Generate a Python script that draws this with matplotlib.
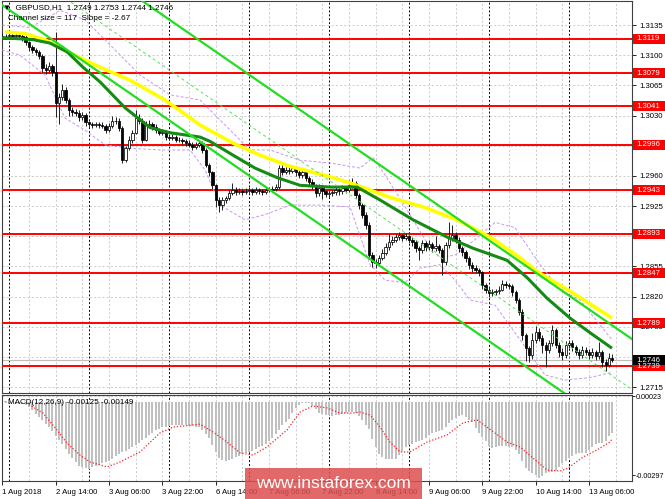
import matplotlib.pyplot as plt
import numpy as np
from matplotlib.transforms import blended_transform_factory
from matplotlib.patches import Rectangle

plt.rcParams['font.family'] = ['Liberation Sans', 'DejaVu Sans']

# GBPUSD H1, one bar per hour from 1 Aug 22:00 to 13 Aug 13:00, prices in pips (x 1e-4)
first_open = 13122
close_pips = [
    13122, 13122, 13123, 13122, 13123, 13122, 13121, 13115, 13109, 13106,
    13104, 13099, 13085, 13083, 13087, 13080, 13045, 13051, 13060, 13048,
    13036, 13034, 13033, 13028, 13031, 13022, 13020, 13019, 13020, 13019,
    13018, 13013, 13018, 13024, 13024, 13016, 12978, 12992, 13002, 13010,
    13027, 13024, 13002, 13019, 13020, 13017, 13013, 13010, 13011, 13005,
    13004, 13005, 13002, 13002, 13000, 12998, 12996, 12993, 12996, 12998,
    12990, 12973, 12964, 12949, 12932, 12926, 12932, 12934, 12940, 12944,
    12941, 12942, 12941, 12942, 12944, 12941, 12944, 12942, 12941, 12944,
    12944, 12945, 12947, 12969, 12964, 12967, 12966, 12969, 12964, 12961,
    12964, 12958, 12953, 12949, 12940, 12946, 12942, 12939, 12940, 12941,
    12944, 12942, 12946, 12944, 12949, 12952, 12938, 12926, 12915, 12903,
    12868, 12860, 12859, 12865, 12871, 12877, 12883, 12886, 12889, 12891,
    12888, 12890, 12886, 12883, 12876, 12874, 12882, 12877, 12881, 12876,
    12879, 12874, 12860, 12880, 12888, 12891, 12886, 12876, 12872, 12865,
    12857, 12853, 12851, 12848, 12833, 12828, 12824, 12825, 12826, 12828,
    12835, 12833, 12832, 12825, 12816, 12802, 12775, 12760, 12752, 12770,
    12779, 12772, 12764, 12758, 12766, 12781, 12764, 12756, 12752, 12764,
    12766, 12761, 12756, 12752, 12758, 12756, 12752, 12756, 12751, 12756,
    12744, 12741, 12749, 12746]
high_pips = [
    13126, 13125, 13127, 13125, 13126, 13125, 13124, 13123, 13117, 13112,
    13108, 13106, 13101, 13090, 13092, 13090, 13127, 13056, 13066, 13063,
    13050, 13040, 13038, 13036, 13034, 13033, 13024, 13022, 13023, 13022,
    13022, 13020, 13021, 13030, 13028, 13027, 13018, 12995, 13006, 13013,
    13036, 13032, 13027, 13024, 13025, 13023, 13020, 13016, 13014, 13013,
    13008, 13008, 13007, 13005, 13004, 13003, 13001, 12999, 12999, 13002,
    13000, 12992, 12975, 12966, 12951, 12936, 12935, 12937, 12944, 12952,
    12947, 12946, 12945, 12946, 12947, 12946, 12947, 12946, 12945, 12947,
    12947, 12948, 12950, 12973, 12972, 12970, 12970, 12973, 12971, 12967,
    12967, 12966, 12960, 12956, 12951, 12950, 12948, 12944, 12943, 12944,
    12947, 12946, 12949, 12948, 12955, 12958, 12954, 12940, 12929, 12918,
    12906, 12872, 12864, 12868, 12875, 12882, 12893, 12890, 12893, 12895,
    12893, 12894, 12892, 12889, 12885, 12879, 12886, 12884, 12885, 12883,
    12890, 12881, 12876, 12883, 12907, 12903, 12895, 12889, 12879, 12874,
    12867, 12860, 12856, 12853, 12850, 12836, 12831, 12829, 12829, 12832,
    12839, 12838, 12836, 12834, 12827, 12818, 12805, 12778, 12763, 12778,
    12786, 12783, 12775, 12767, 12770, 12787, 12783, 12767, 12760, 12768,
    12770, 12769, 12764, 12759, 12762, 12761, 12759, 12760, 12758, 12767,
    12758, 12747, 12755, 12753]
low_pips = [
    13119, 13119, 13120, 13119, 13120, 13119, 13117, 13112, 13105, 13102,
    13100, 13095, 13080, 13078, 13080, 13076, 13028, 13020, 13048, 13044,
    13030, 13029, 13029, 13024, 13025, 13018, 13017, 13016, 13017, 13016,
    13015, 13010, 13011, 13016, 13020, 13012, 12975, 12976, 12990, 12998,
    13008, 13020, 12998, 13000, 13016, 13013, 13010, 13007, 13007, 13002,
    13001, 13001, 12999, 12999, 12997, 12995, 12993, 12990, 12991, 12994,
    12987, 12970, 12960, 12945, 12924, 12918, 12920, 12928, 12932, 12938,
    12938, 12939, 12938, 12939, 12940, 12938, 12939, 12939, 12938, 12939,
    12941, 12941, 12942, 12945, 12961, 12962, 12962, 12963, 12960, 12957,
    12958, 12954, 12949, 12945, 12935, 12937, 12933, 12935, 12936, 12937,
    12938, 12938, 12939, 12940, 12941, 12946, 12934, 12922, 12911, 12898,
    12864, 12854, 12853, 12855, 12862, 12868, 12874, 12880, 12883, 12886,
    12884, 12885, 12882, 12879, 12872, 12862, 12870, 12873, 12874, 12872,
    12873, 12870, 12845, 12856, 12876, 12884, 12882, 12872, 12867, 12860,
    12852, 12849, 12847, 12844, 12829, 12824, 12820, 12821, 12822, 12823,
    12826, 12830, 12829, 12821, 12812, 12798, 12770, 12745, 12744, 12748,
    12766, 12768, 12755, 12738, 12754, 12762, 12760, 12750, 12746, 12749,
    12760, 12757, 12752, 12748, 12749, 12752, 12748, 12749, 12746, 12748,
    12738, 12733, 12738, 12744]

# MACD(12,26,9) main line per bar, x 1e-5
macd_e5 = [
    -5, -5, -6, -6, -7, -8, -10, -14, -20, -33,
    -47, -62, -75, -90, -103, -120, -137, -155, -172, -192,
    -210, -226, -243, -259, -265, -270, -272, -265, -260, -255,
    -250, -245, -240, -230, -220, -210, -205, -198, -190, -185,
    -175, -165, -155, -145, -135, -125, -115, -108, -103, -100,
    -97, -95, -94, -94, -95, -95, -96, -98, -100, -103,
    -115, -130, -145, -175, -205, -226, -235, -239, -236, -230,
    -222, -218, -213, -208, -203, -198, -192, -185, -178, -169,
    -158, -145, -132, -115, -95, -80, -68, -45, -25, -12,
    -6, -4, -4, -15, -30, -45, -50, -53, -54, -55,
    -54, -54, -48, -43, -41, -42, -45, -55, -75, -95,
    -110, -150, -185, -210, -225, -231, -233, -232, -231, -215,
    -198, -185, -175, -169, -163, -159, -156, -145, -135, -128,
    -122, -118, -115, -100, -85, -74, -65, -57, -54, -62,
    -72, -82, -105, -125, -144, -160, -178, -189, -183, -179,
    -177, -180, -183, -185, -195, -210, -240, -268, -280, -288,
    -298, -309, -300, -288, -285, -283, -280, -265, -250, -239,
    -228, -218, -210, -208, -207, -206, -195, -182, -169, -167,
    -166, -160, -140, -125]
signal_bar = [8, 12.2, 16.4, 19.4, 23.3, 26.3, 31.4, 35.3, 41.3, 47.3, 51.2, 59.3,
              63.2, 67.4, 71.3, 75.2, 79.4, 85.4, 89.3, 93.2, 97.4, 101.3, 105.2,
              107.3, 110.3, 113.3, 116.3, 119.3, 122.3, 127.4, 133.4, 138.2, 142.4,
              145.4, 151.4, 155.3, 159.2, 163.4, 167.3, 169.7, 174.2, 178.4, 182.3, 183]
signal_e5 = [-10, -45, -114, -167, -216, -244, -264, -244, -203, -126, -102, -90,
             -122, -163, -207, -216, -183, -114, -41, -16, -24, -45, -45,
             -41, -53, -102, -163, -203, -203, -163, -134, -85, -73,
             -102, -163, -183, -228, -277, -281, -269, -224, -195, -163, -149]

# moving averages (yellow slow, dark green fast)
slow_bar = [0.8, 6.8, 12.8, 19.4, 29.3, 38.3, 48.8, 59.3, 69.2, 77.3, 86.3, 98.3, 106.4,
            116.3, 126.2, 136.4, 146.3, 155.3, 160.4, 171.2, 182.9]
slow_pips = [13127, 13125, 13118, 13104, 13086, 13071, 13048, 13019, 12998, 12984, 12971,
             12959, 12949, 12935, 12924, 12909, 12889, 12865, 12849, 12824, 12795]
fast_bar = [-0.1, 5.3, 9.2, 14.3, 19.4, 24.2, 29.3, 36.8, 44.3, 50.3, 59.3, 62.3, 69.2,
            75.8, 82.4, 89.3, 98.3, 106.4, 113.3, 123.2, 133.4, 141.2, 151.4, 157.4,
            163.4, 170.3, 176.3, 182.9]
fast_pips = [13120, 13119, 13118, 13114, 13104, 13086, 13069, 13039, 13016, 13010, 13005,
             13000, 12984, 12969, 12958, 12949, 12947, 12947, 12932, 12909, 12889, 12876,
             12862, 12842, 12818, 12795, 12778, 12760]

# envelope bands (violet dashed)
band_up_bar = [0, 8.3, 17.3, 24.8, 32.3, 41.3, 50.3, 59.3, 66.8, 74.3, 80.3, 89.3, 98.3,
               107.3, 111.2, 114.8, 122.3, 126.8, 131.3, 135.8, 141.8, 147.8, 153.8,
               161.3, 167.3, 173.3, 179.3, 182.9]
band_up_pips = [13135, 13132, 13152, 13141, 13112, 13077, 13054, 13048, 13019, 12990,
                12990, 12978, 12975, 12969, 12981, 12961, 12915, 12886, 12865, 12868,
                12886, 12906, 12900, 12857, 12828, 12816, 12787, 12770]
band_lo_bar = [-0.1, 5.3, 12.8, 18.8, 24.8, 30.8, 38.3, 47.3, 56.3, 60.8, 65.3, 72.8, 78.8,
               86.3, 95.3, 104.3, 110.3, 114.8, 120.8, 125.3, 131.3, 135.8, 140.3, 147.8,
               155.3, 162.8, 168.8, 176.3, 182.9]
band_lo_pips = [13106, 13100, 13077, 13027, 13013, 12996, 12992, 12990, 12990, 12967,
                12926, 12909, 12915, 12926, 12926, 12924, 12857, 12839, 12836, 12853,
                12857, 12839, 12816, 12810, 12770, 12729, 12723, 12726, 12732]

# regression channel: size 117 pips, slope -2.67 pips per bar
channel_start = 1.3158
channel_slope = -0.000267
channel_size = 0.0117

levels = [1.3119, 1.3079, 1.3041, 1.2996, 1.2943, 1.2893, 1.2847, 1.2789, 1.2739]
grid_prices = [1.3135, 1.3100, 1.3065, 1.3030, 1.2995, 1.2960, 1.2925, 1.2890,
               1.2855, 1.2820, 1.2785, 1.2750, 1.2715]
shown_prices = [1.3135, 1.3100, 1.3065, 1.3030, 1.2960, 1.2925,
                1.2855, 1.2820, 1.2785, 1.2715]
last_price = 1.2746

date_bars = [0, 16, 32, 48, 64, 80, 96, 112, 128, 144, 160, 176]
date_labels = ['1 Aug 2018', '2 Aug 14:00', '3 Aug 06:00', '3 Aug 22:00', '6 Aug 14:00',
               '7 Aug 06:00', '7 Aug 22:00', '8 Aug 14:00', '9 Aug 06:00', '9 Aug 22:00',
               '10 Aug 14:00', '13 Aug 06:00']
day_bars = [2, 26, 50, 74, 98, 122, 146, 170]

close = np.array(close_pips) / 10000
high = np.array(high_pips) / 10000
low = np.array(low_pips) / 10000
opens = np.array([first_open] + close_pips[:-1]) / 10000
bars = np.arange(len(close))

fig = plt.figure(figsize=(6.65, 4.99), dpi=100)
W, H = 665, 499
ax = fig.add_axes([2 / W, 1 - 393 / H, 630 / W, 392 / H])
ax2 = fig.add_axes([2 / W, 1 - 481 / H, 630 / W, 86 / H])

xmin, xmax = -0.1, 188.9
fs = 5.6
px_price = 1 / 8619  # price per pixel on the main panel

for a in (ax, ax2):
    a.set_xlim(xmin, xmax)
    for s in a.spines.values():
        s.set_color('#404040')
        s.set_linewidth(0.8)
    for b in range(0, 190, 8):
        a.axvline(b, color='#c4c4c4', lw=0.6, ls=(0, (2.5, 2.5)), zorder=1)
    for b in day_bars:
        a.axvline(b, color='black', lw=0.7, ls=(0, (2, 2)), zorder=1)

# main price panel
ax.set_ylim(1.270804, 1.316285)
for p in grid_prices:
    ax.axhline(p, color='#c4c4c4', lw=0.6, ls=(0, (2.5, 2.5)), zorder=1)
ax.axhline(last_price, color='#bdbdbd', lw=0.8, zorder=2)
for p in levels:
    ax.axhline(p, color='#ff0000', lw=1.4, zorder=3)

# violet bands
ax.plot(band_up_bar, np.array(band_up_pips) / 10000, color='#c896f0', lw=0.7,
        ls=(0, (3, 2)), zorder=3)
ax.plot(band_lo_bar, np.array(band_lo_pips) / 10000, color='#c896f0', lw=0.7,
        ls=(0, (3, 2)), zorder=3)

# candles
up = close >= opens
ax.vlines(bars, low, high, color='#202020', lw=0.7, zorder=4)
body = np.maximum(np.abs(close - opens), 0.000012)
ax.bar(bars[up], body[up], bottom=opens[up], width=0.7, facecolor='white',
       edgecolor='black', lw=0.55, zorder=5)
ax.bar(bars[~up], body[~up], bottom=close[~up], width=0.7, facecolor='black',
       edgecolor='black', lw=0.55, zorder=5)

# moving averages
ax.plot(slow_bar, np.array(slow_pips) / 10000, color='#ffff00', lw=2.6, zorder=6,
        solid_capstyle='butt')
ax.plot(fast_bar, np.array(fast_pips) / 10000, color='#158a15', lw=2.2, zorder=7,
        solid_capstyle='butt')

# channel
cx = np.array([0, 190])
lower = channel_start + channel_slope * cx
ax.plot(cx, lower, color='#22dd22', lw=1.6, zorder=7)
ax.plot(cx, lower + channel_size, color='#22dd22', lw=1.6, zorder=7)
ax.plot(cx, lower + channel_size / 2, color='#55e055', lw=0.7, ls=(0, (3, 3)), zorder=7)

ax.set_xticks([])
ax.yaxis.tick_right()
ax.set_yticks(shown_prices)
ax.set_yticklabels(['%.4f' % p for p in shown_prices])
ax.tick_params(axis='y', labelsize=fs, length=3, pad=2, width=0.6)
ax.set_yticks([1.2995, 1.2890, 1.2750], minor=True)
ax.tick_params(axis='y', which='minor', length=3, width=0.6)

tr = blended_transform_factory(ax.transAxes, ax.transData)
box_w = 33 / 630
box_h = 10 * px_price


def price_box(p, face):
    ax.add_patch(Rectangle((1.0 + 1 / 630, p - box_h / 2), box_w, box_h, transform=tr,
                           facecolor=face, edgecolor='none', clip_on=False, zorder=9))
    ax.text(1.0 + 4 / 630, p, '%.4f' % p, transform=tr, fontsize=fs, color='white',
            va='center', ha='left', clip_on=False, zorder=10)


for p in levels:
    price_box(p, '#ff0000')
price_box(last_price, 'black')

# MACD panel
ax2.set_ylim(-0.003214, 0.000285)
ax2.axhline(0.00023, color='#c4c4c4', lw=0.6, ls=(0, (2.5, 2.5)), zorder=1)
ax2.bar(bars, np.array(macd_e5) / 100000, width=0.65, color='#c0c0c0', zorder=2)
ax2.plot(signal_bar, np.array(signal_e5) / 100000, color='#ff2020', lw=0.9,
         ls=(0, (1, 1.5)), zorder=3)
ax2.yaxis.tick_right()
ax2.set_yticks([0.00023, -0.00297])
ax2.set_yticklabels(['0.00023', '-0.00297'])
ax2.tick_params(axis='y', labelsize=fs - 0.4, length=2, pad=1, width=0.6)
ax2.set_xticks(date_bars)
ax2.set_xticklabels(date_labels)
ax2.tick_params(axis='x', labelsize=fs, length=3, pad=3, width=0.6)
for lbl in ax2.get_xticklabels():
    lbl.set_ha('left')

# header texts
fig.text(3 / W, 1 - 8 / H, '\u25bc  GBPUSD,H1  1.2749 1.2753 1.2744 1.2746',
         fontsize=fs + 0.3, va='center', ha='left')
fig.text(8 / W, 1 - 19 / H, 'Channel size = 117  Slope = -2.67',
         fontsize=fs + 0.3, va='center', ha='left')
fig.text(4 / W, 1 - 402 / H, '-', color='#ff0000', fontsize=fs, va='center', ha='left')
fig.text(8 / W, 1 - 402 / H, 'MACD(12,26,9) -0.00125 -0.00149',
         fontsize=fs + 0.3, va='center', ha='left')

# watermark
fig.patches.append(Rectangle((245 / W, 0), 177 / W, 31 / H, transform=fig.transFigure,
                             facecolor='#dd4f4f', alpha=0.85, edgecolor='none'))
fig.text(333 / W, 1 - 484 / H, 'www.instaforex.com', color='white', fontsize=12.5,
         ha='center', va='center')

fig.savefig('out.png', dpi=100)
